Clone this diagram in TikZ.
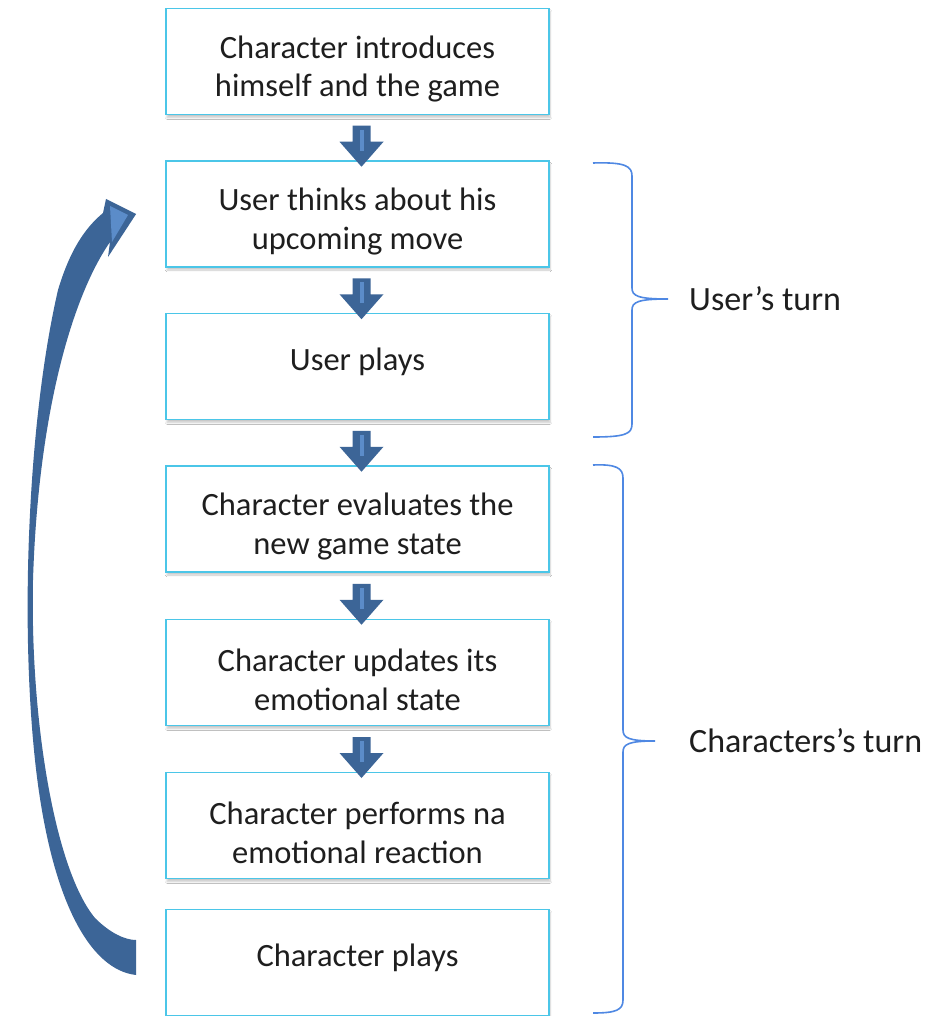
\documentclass[tikz,border=0pt]{standalone}
\usepackage{fontspec}
\setmainfont{Carlito}
\usetikzlibrary{calc,shadows.blur}
\definecolor{boxline}{HTML}{4BC6E8}
\definecolor{arrdark}{HTML}{3C6597}
\definecolor{arrlight}{HTML}{5B8CC9}
\definecolor{bracec}{HTML}{4F88E3}
\definecolor{txt}{HTML}{1E1E1E}
\newcommand\blockarr[2]{%
  \path ($(#1.south)!0.5!(#2.north)$) ++(4,0) coordinate (ba);
  \begin{scope}[shift={(ba)}]
   \fill[arrdark] (-9,-12) -- (9,-12) -- (9,4) -- (22,4) -- (0,29) -- (-22,4) -- (-9,4) -- cycle;
   \draw[arrlight, line width=4pt] (0,-8) -- (0,13);
  \end{scope}}
\begin{document}
\begin{tikzpicture}[x=1pt,y=-1pt,
  box/.style={draw=boxline, line width=1.8pt, fill=white, minimum width=383pt, minimum height=106pt,
    inner sep=0pt,
    blur shadow={shadow xshift=1pt, shadow yshift=-3pt, shadow blur steps=6, shadow opacity=22}},
  bt/.style={align=center, font=\fontsize{32.5}{38.5}\selectfont, text=txt, inner sep=0pt},
  two/.style={bt, yshift=-7.5pt},
  one/.style={bt, yshift=4.5pt},
  lbl/.style={anchor=west, inner sep=0pt, font=\fontsize{34}{40}\selectfont, text=txt},
  brace/.style={draw=bracec, line width=1.6pt}]
\fill[white] (0,0) rectangle (933,1016);
\useasboundingbox (0,0) rectangle (933,1016);

\node[box] (b1) at (357.5,61.5) {};
\node[box] (b2) at (357.5,214) {};
\node[box] (b3) at (357.5,366.5) {};
\node[box] (b4) at (357.5,519) {};
\node[box] (b5) at (357.5,672.5) {};
\node[box] (b6) at (357.5,825.5) {};
\node[box] (b7) at (357.5,962.5) {};
\node[two] (t1) at (b1) {Character introduces\\himself and the game};
\node[two] (t2) at (b2) {User thinks about his\\upcoming move};
\node[one] (t3) at (b3) {User plays};
\node[two] (t4) at (b4) {Character evaluates the\\new game state};
\node[two] (t5) at (b5) {Character updates its\\emotional state};
\node[two] (t6) at (b6) {Character performs na\\emotional reaction};
\node[one] (t7) at (b7) {Character plays};

\blockarr{b1}{b2}
\blockarr{b2}{b3}
\blockarr{b3}{b4}
\blockarr{b4}{b5}
\blockarr{b5}{b6}

% curved return arrow from b7 back to b2
\coordinate (tailtop) at ($(b7.west)+(-29,-22.5)$);
\coordinate (tailbot) at ($(b7.west)+(-29,12.5)$);
\coordinate (tip) at ($(b2.west)+(-29,0)$);
\fill[arrdark] (tailbot) .. controls (90,970) and (50,900) .. (35,760)
  .. controls (20,620) and (28,420) .. (58,290)
  .. controls (70,250) and (85,228) .. (103,213)
  -- (106,199) -- (tip) -- (108,257) -- (110,242)
  .. controls (70,300) and (38,420) .. (33,580)
  .. controls (30,720) and (55,870) .. (95,918)
  .. controls (110,933) and (125,940) .. (tailtop) -- cycle;
\fill[arrlight] (110,206) -- (128,215) -- (112,242) -- cycle;

% braces
\draw[brace] (593,163) .. controls (625,162) and (632,166) .. (632,176) -- (632,288)
  .. controls (632,296) and (638,299) .. (668,299)
  (668,299) .. controls (638,299) and (632,302) .. (632,310) -- (632,424)
  .. controls (632,434) and (625,437) .. (593,437);
\draw[brace] (593,465) .. controls (616,464) and (623,468) .. (623,478) -- (623,730)
  .. controls (623,738) and (629,741) .. (655,741)
  (655,741) .. controls (629,741) and (623,744) .. (623,752) -- (623,1000)
  .. controls (623,1010) and (616,1013) .. (593,1013);

\node[lbl] (ut) at (689,299) {User’s turn};
\node[lbl] (ct) at (689,741) {Characters’s turn};
\end{tikzpicture}
\end{document}
